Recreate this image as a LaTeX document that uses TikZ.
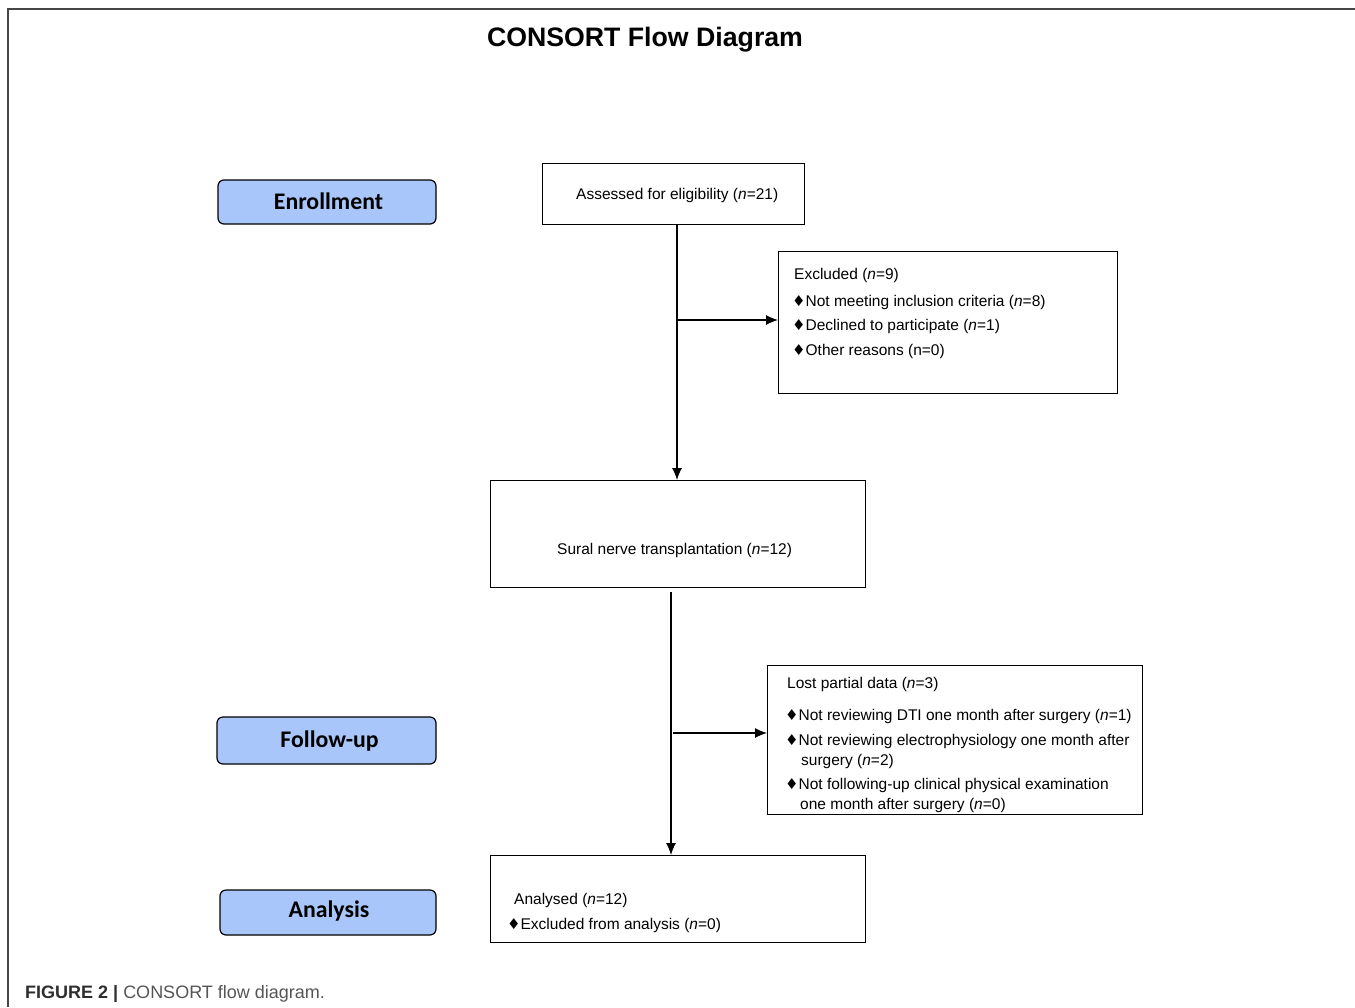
\documentclass[tikz,border=0pt]{standalone}
\usepackage{fontspec}
\setmainfont{Liberation Sans}
\newfontfamily\carl{Carlito}
\newfontfamily\dejavu{DejaVu Sans}
\usetikzlibrary{arrows.meta}
\definecolor{phaseblue}{RGB}{168,198,250}
\definecolor{framegrey}{RGB}{70,70,70}
\definecolor{capdark}{RGB}{45,45,45}
\definecolor{capgrey}{RGB}{85,85,85}
\newcommand{\dia}{{\dejavu\fontsize{15}{15}\selectfont ♦}\hspace{0pt}}
\begin{document}
\begin{tikzpicture}[x=1pt,y=-1pt,
  box/.style={draw, line width=1.4pt, inner sep=0pt, anchor=north west},
  phase/.style={draw, line width=1.2pt, fill=phaseblue, rounded corners=6pt, inner sep=0pt},
  phasetxt/.style={inner sep=0pt, font=\carl\bfseries\fontsize{23.8}{26}\selectfont,
    text height=15.3pt, text depth=0pt},
  txt/.style={anchor=base west, inner sep=0pt, font=\fontsize{15.5}{18}\selectfont},
  arr/.style={line width=1.1pt, -{Latex[length=12pt,width=10pt]}}]
\useasboundingbox (0,0) rectangle (1355,1007);
% frame
\draw[framegrey, line width=1.5pt] (8,1007) -- (8,9) -- (1355,9);
% title
\node[anchor=base, inner sep=0pt, font=\bfseries\fontsize{26.7}{30}\selectfont] (title) at (645,46) {CONSORT Flow Diagram};
% phase boxes
\node[phase, minimum width=218pt, minimum height=44pt] (enr) at (327,202) {};
\node[phasetxt] (enrt) at (328.5,201.5) {Enrollment};
\node[phase, minimum width=219pt, minimum height=47pt] (fol) at (326.5,740.5) {};
\node[phasetxt] (folt) at (329.5,740) {Follow-up};
\node[phase, minimum width=216pt, minimum height=45pt] (ana) at (328,912.5) {};
\node[phasetxt] (anat) at (329,910) {Analysis};
% flow boxes
\node[box, minimum width=262pt, minimum height=61pt] (assess) at (542,163) {};
\node[box, minimum width=339pt, minimum height=142pt] (excl) at (778,251) {};
\node[box, minimum width=375pt, minimum height=107pt] (sural) at (490,480) {};
\node[box, minimum width=375pt, minimum height=149pt] (lost) at (767,665) {};
\node[box, minimum width=375pt, minimum height=87pt] (anal) at (490,855) {};
% texts
\node[txt] (t1) at (576,199) {Assessed for eligibility (\textit{n}=21)};
\node[txt] (e0) at (794,279) {Excluded (\textit{n}=9)};
\node[txt] (e1) at (792,306) {\dia Not meeting inclusion criteria (\textit{n}=8)};
\node[txt] (e2) at (792,330) {\dia Declined to participate (\textit{n}=1)};
\node[txt] (e3) at (792,355) {\dia Other reasons (n=0)};
\node[txt] (s0) at (557,554) {Sural nerve transplantation (\textit{n}=12)};
\node[txt] (l0) at (787,688) {Lost partial data (\textit{n}=3)};
\node[txt] (l1) at (785,720) {\dia Not reviewing DTI one month after surgery (\textit{n}=1)};
\node[txt] (l2) at (785,745) {\dia Not reviewing electrophysiology one month after};
\node[txt] (l2b) at (801,765) {surgery (\textit{n}=2)};
\node[txt] (l3) at (785,789) {\dia Not following-up clinical physical examination};
\node[txt] (l3b) at (800,809) {one month after surgery (\textit{n}=0)};
\node[txt] (a0) at (514,904) {Analysed (\textit{n}=12)};
\node[txt] (a1) at (507,929) {\dia Excluded from analysis (\textit{n}=0)};
% connectors
\draw[arr] (677,224) coordinate (s1) -- (s1 |- sural.north);
\coordinate (j1) at (677,320);
\draw[arr] (j1) -- (j1 -| excl.west);
\coordinate (s2) at (671,592);
\draw[arr] (s2) -- (s2 |- anal.north);
\coordinate (j2) at (673,733);
\draw[arr] (j2) -- (j2 -| lost.west);
% caption
\node[anchor=base west, inner sep=0pt, font=\fontsize{18}{20}\selectfont] (cap) at (25,998)
  {{\bfseries\color{capdark}FIGURE 2 |} \color{capgrey}CONSORT flow diagram.};
\end{tikzpicture}
\end{document}
